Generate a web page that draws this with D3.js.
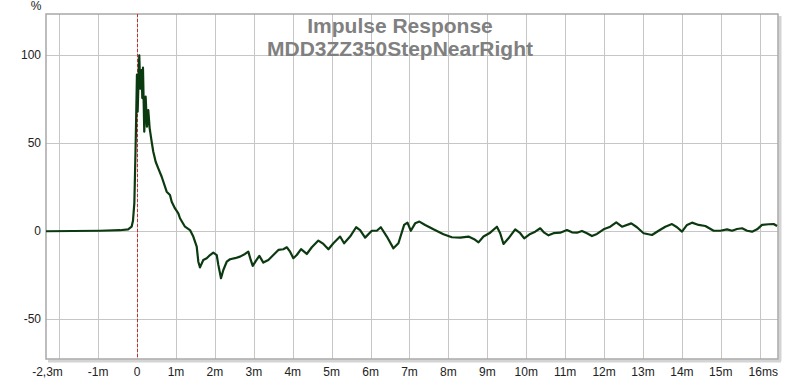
<!DOCTYPE html>
<html>
<head>
<meta charset="utf-8">
<script src="https://cdn.jsdelivr.net/npm/d3@7"></script>
<style>
  body { margin: 0; background: #fff; }
  svg { display: block; font-family: "Liberation Sans", Arial, sans-serif; }
</style>
</head>
<body>
<div class="irChart"></div>
<script>
// time in ms, response in %
var times = [-2.34, -0.95, -0.44, -0.23, -0.14, -0.105, -0.07, -0.04, -0.02, -0.003,
  0.015, 0.057, 0.082, 0.118, 0.134, 0.152, 0.185, 0.221, 0.255, 0.288,
  0.324, 0.375, 0.417, 0.478, 0.545, 0.633, 0.761, 0.846, 0.89, 0.975,
  1.06, 1.103, 1.232, 1.36, 1.445, 1.533, 1.574, 1.617, 1.702, 1.79,
  1.875, 1.959, 2.047, 2.088, 2.157, 2.217, 2.304, 2.389, 2.517, 2.646,
  2.774, 2.859, 2.921, 2.972, 3.057, 3.142, 3.245, 3.374, 3.502, 3.631,
  3.759, 3.847, 3.932, 4.016, 4.104, 4.214, 4.361, 4.49, 4.659, 4.788,
  4.917, 5.045, 5.217, 5.32, 5.474, 5.629, 5.731, 5.86, 6.032, 6.161,
  6.264, 6.418, 6.588, 6.716, 6.863, 6.948, 7.035, 7.146, 7.256, 7.403,
  7.616, 7.873, 8.089, 8.303, 8.516, 8.663, 8.774, 8.902, 9.074, 9.247,
  9.331, 9.416, 9.545, 9.717, 9.846, 9.948, 10.103, 10.231, 10.36, 10.463,
  10.573, 10.702, 10.874, 11.047, 11.175, 11.304, 11.432, 11.561, 11.689, 11.818,
  11.988, 12.16, 12.314, 12.461, 12.7, 12.846, 13.016, 13.232, 13.402, 13.574,
  13.746, 13.875, 14.003, 14.132, 14.261, 14.43, 14.603, 14.816, 14.988, 15.161,
  15.289, 15.418, 15.547, 15.675, 15.804, 15.932, 16.06, 16.23, 16.359, 16.446];
var response = [0, 0.3, 0.6, 1.1, 2.6, 6, 16, 45, 68, 89,
  68, 100, 81, 91.6, 75.7, 93, 56.6, 76.5, 59.4, 68.9,
  58.5, 51, 45.2, 39.5, 35.8, 31, 22.5, 20.6, 16.8, 13,
  10.2, 7.4, 2.6, 0.7, -3, -8.7, -17.3, -20.5, -16.3, -15.3,
  -13.5, -12.1, -13.5, -19.1, -26.7, -22, -17.3, -15.9, -15.3, -14.4,
  -12.9, -11.6, -16.3, -19.7, -16.7, -14, -17.8, -16.3, -13.5, -10.6,
  -10.2, -9.1, -11.6, -15.3, -13.5, -10.2, -12.9, -9.1, -5.3, -7.2,
  -10.2, -6.8, -3, -6.8, -3, 2.3, 0.7, -3.6, 0.3, 0.3,
  2.3, -3, -9.7, -6.8, 3.6, 4.9, 0.3, 4.5, 5.5, 3.6,
  1.1, -1.7, -3.4, -3.6, -3, -4.5, -6.3, -3, -0.8, 2.6,
  -1.1, -7.2, -4, 1.1, -1.1, -4, -1.5, -0.2, 1.7, -0.8,
  -2.3, -1.1, -0.8, 0.7, -0.6, -0.8, 0.2, -1.1, -2.7, -1.5,
  1.1, 2.6, 5.1, 2.6, 4.5, 2.3, -1.1, -2.1, 0.3, 2.6,
  4.1, 2.3, -0.2, 3.6, 4.9, 3.6, 3, 0.3, 0.3, 1.1,
  0.3, 1.3, 1.7, 0.3, -0.2, 1.1, 3.6, 4, 4.1, 3];

var xTicks = [-2.34, -2, -1, 0, 1, 2, 3, 4, 5, 6, 7, 8, 9, 10, 11, 12, 13, 14, 15, 16];
var xTickLabels = ["-2,3m", "", "-1m", "0", "1m", "2m", "3m", "4m", "5m", "6m", "7m", "8m",
  "9m", "10m", "11m", "12m", "13m", "14m", "15m", "16ms"];
var yTicks = [100, 50, 0, -50];
var titleLines = ["Impulse Response", "MDD3ZZ350StepNearRight"];

var width = 800, height = 381;
var plotLeft = 46, plotRight = 778, plotTop = 14, plotBottom = 359;

var svg = d3.select(".irChart").append("svg")
  .attr("width", width)
  .attr("height", height);

var x = d3.scaleLinear().domain([-2.34, 16.47]).range([plotLeft, plotRight]);
var y = d3.scaleLinear().domain([-72.6, 123.5]).range([plotBottom, plotTop]);

// grid
svg.append("g").selectAll("line").data(xTicks.slice(1)).enter().append("line")
  .attr("x1", function(d) { return Math.round(x(d)) + 0.5; })
  .attr("x2", function(d) { return Math.round(x(d)) + 0.5; })
  .attr("y1", plotTop).attr("y2", plotBottom)
  .attr("stroke", "#c6c6c6").attr("stroke-width", 1);
svg.append("g").selectAll("line").data(yTicks).enter().append("line")
  .attr("y1", function(d) { return Math.round(y(d)) + 0.5; })
  .attr("y2", function(d) { return Math.round(y(d)) + 0.5; })
  .attr("x1", plotLeft).attr("x2", plotRight)
  .attr("stroke", "#c6c6c6").attr("stroke-width", 1);

// frame with shadow
svg.append("line").attr("x1", plotRight + 2).attr("x2", plotRight + 2)
  .attr("y1", plotTop + 2).attr("y2", plotBottom + 2)
  .attr("stroke", "#d4d4d4").attr("stroke-width", 3);
svg.append("line").attr("x1", plotLeft + 2).attr("x2", plotRight + 3)
  .attr("y1", plotBottom + 2).attr("y2", plotBottom + 2)
  .attr("stroke", "#d4d4d4").attr("stroke-width", 3);
svg.append("rect")
  .attr("x", plotLeft).attr("y", plotTop)
  .attr("width", plotRight - plotLeft).attr("height", plotBottom - plotTop)
  .attr("fill", "none").attr("stroke", "#a8a8a8").attr("stroke-width", 1.5);

// title
svg.append("g").selectAll("text").data(titleLines).enter().append("text")
  .attr("x", 400)
  .attr("y", function(d, i) { return 33 + i * 23; })
  .attr("text-anchor", "middle")
  .attr("font-size", "21px")
  .attr("font-weight", "bold")
  .attr("fill", "#808080")
  .text(function(d) { return d; });

// zero marker
svg.append("line")
  .attr("x1", Math.round(x(0)) + 0.5).attr("x2", Math.round(x(0)) + 0.5)
  .attr("y1", plotTop).attr("y2", plotBottom)
  .attr("stroke", "#cc2a2a").attr("stroke-width", 1)
  .attr("stroke-dasharray", "3,2");

// curve
var pts = times.map(function(t, i) { return [t, response[i]]; });
var line = d3.line()
  .x(function(d) { return x(d[0]); })
  .y(function(d) { return y(d[1]); });
svg.append("path")
  .datum(pts)
  .attr("d", line)
  .attr("fill", "none")
  .attr("stroke", "#0c3a10")
  .attr("stroke-width", 2.2)
  .attr("stroke-linejoin", "round");

// tick labels
svg.append("g").selectAll("text").data(yTicks).enter().append("text")
  .attr("x", 41)
  .attr("y", function(d) { return y(d) + 4; })
  .attr("text-anchor", "end")
  .attr("font-size", "12px")
  .attr("fill", "#222")
  .text(function(d) { return d; });
svg.append("text")
  .attr("x", 36).attr("y", 10)
  .attr("text-anchor", "middle")
  .attr("font-size", "12px")
  .attr("fill", "#222")
  .text("%");
svg.append("g").selectAll("text").data(xTicks).enter().append("text")
  .attr("x", function(d, i) {
    var lbl = xTickLabels[i];
    if (i === 0) return x(d) + 1.5;
    return lbl.slice(-1) === "s" ? x(d) + 3.5 : x(d);
  })
  .attr("y", 376)
  .attr("text-anchor", "middle")
  .attr("font-size", "12px")
  .attr("fill", "#222")
  .text(function(d, i) { return xTickLabels[i]; });
</script>
</body>
</html>
